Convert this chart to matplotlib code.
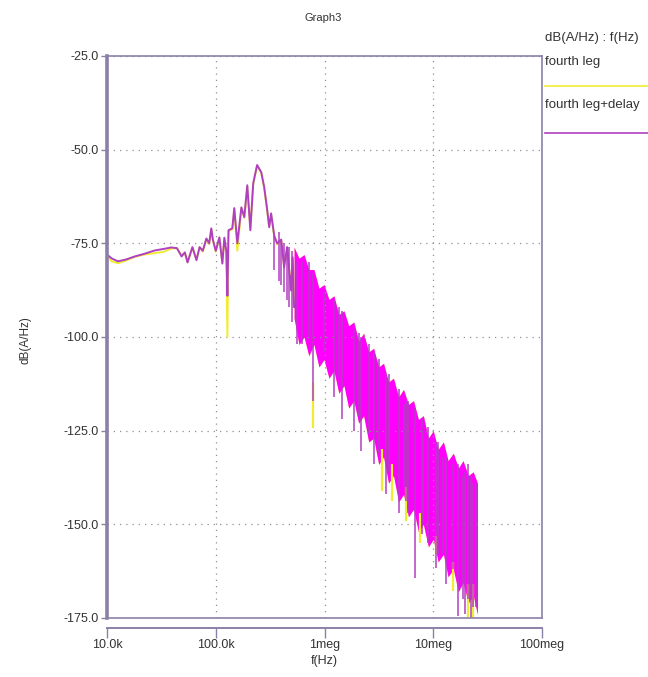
import numpy as np
import matplotlib.pyplot as plt
from matplotlib.ticker import FixedLocator, NullLocator

plt.rcParams['font.family'] = ['Liberation Sans', 'DejaVu Sans']

# low / mid frequency trace (Hz, dB(A/Hz))
f_line = [10e3, 11e3, 12.6e3, 15e3, 18e3, 22e3, 27.5e3, 33e3, 39e3, 44e3,
          48.5e3, 52e3, 55e3, 61e3, 66.5e3, 71e3, 76e3, 82e3, 87e3, 91e3,
          94e3, 100e3, 108e3, 115e3, 120e3, 125e3, 128e3, 131e3, 142e3, 148e3,
          158e3, 172e3, 183e3, 195e3, 208e3, 221e3, 240e3, 262e3, 279e3, 297e3,
          310e3, 323e3, 345e3, 367e3, 400e3, 425e3, 453e3, 493e3, 510e3, 525e3]
db_delay = [-78.0, -79.0, -79.8, -79.3, -78.5, -77.8, -76.9, -76.5, -76.1, -76.3,
            -78.5, -77.4, -80.1, -76.0, -79.5, -76.0, -77.0, -73.7, -75.0, -71.0,
            -74.0, -77.0, -73.4, -80.4, -73.5, -77.0, -89.0, -71.5, -71.0, -65.6,
            -75.0, -65.4, -68.0, -59.5, -71.5, -59.0, -54.1, -56.0, -60.0, -66.0,
            -70.7, -67.0, -73.0, -75.0, -74.0, -81.4, -76.0, -87.6, -78.7, -92.0]
db_leg = [-78.3, -79.8, -80.3, -79.6, -78.6, -78.0, -77.6, -77.3, -76.4, -76.3,
          -78.2, -77.6, -80.0, -76.2, -79.3, -76.1, -77.2, -74.0, -75.2, -71.3,
          -74.1, -77.2, -73.6, -80.2, -73.8, -77.5, -100.0, -71.8, -71.2, -66.0,
          -77.0, -65.6, -68.2, -59.8, -71.0, -59.2, -54.3, -56.2, -60.3, -66.2,
          -70.5, -67.3, -73.2, -75.3, -74.2, -81.0, -76.3, -87.0, -79.0, -91.0]

# dense high frequency band: top and bottom of the filled region
f_band = [525e3, 583e3, 649e3, 717e3, 800e3, 889e3, 989e3, 1.10e6, 1.22e6, 1.355e6,
          1.51e6, 1.67e6, 1.86e6, 2.06e6, 2.29e6, 2.55e6, 2.83e6, 3.15e6, 3.49e6, 3.88e6,
          4.31e6, 4.8e6, 5.33e6, 5.92e6, 6.58e6, 7.31e6, 8.11e6, 9.02e6, 10.0e6, 11.1e6,
          12.4e6, 13.7e6, 15.3e6, 17.0e6, 18.8e6, 21.0e6, 23.3e6, 25.5e6]
band_top = [-76, -79, -78, -82, -82, -87, -86, -90, -89, -94,
            -93, -97, -96, -101, -99, -104, -103, -108, -107, -112,
            -111, -116, -114, -118, -117, -122, -121, -127, -125, -130,
            -128, -133, -131, -135, -133, -137, -136, -139]
band_bot = [-95, -102, -100, -105, -102, -108, -106, -111, -109, -115,
            -113, -119, -117, -123, -121, -128, -127, -134, -132, -139,
            -137, -144, -142, -148, -146, -152, -150, -156, -154, -160,
            -158, -164, -162, -168, -165.5, -171, -169, -174]

# darker streaks and downward spikes of fourth leg+delay
spk_f = [345e3, 385e3, 400e3, 425e3, 453e3, 470e3, 500e3, 560e3, 621e3, 717e3,
         783e3, 989e3, 1.22e6, 1.355e6, 1.44e6, 1.86e6, 2.06e6, 2.15e6, 2.55e6, 2.83e6,
         3.15e6, 3.65e6, 3.88e6, 4.8e6, 5.33e6, 5.56e6, 5.92e6, 6.86e6, 7.8e6, 8.11e6,
         9.02e6, 10.7e6, 11.1e6, 12.4e6, 13.2e6, 15.3e6, 17.0e6, 18.8e6, 19.7e6, 21.0e6,
         22.3e6, 23.3e6, 24.5e6]
spk_hi = [-73, -72, -74, -75, -76, -76, -77, -80, -80, -80,
          -83, -88, -90, -92, -93, -98, -99, -100, -102, -104,
          -106, -110, -110, -114, -118, -117, -117, -119, -122, -125,
          -124, -128, -128, -132, -132, -134, -134, -137, -136, -134,
          -137, -139, -139]
spk_lo = [-82.0, -85.0, -86.0, -88.0, -90.0, -92.0, -96.0, -102.0, -101.8, -100.0,
          -117.0, -104.0, -116.0, -111.0, -122.0, -125.0, -121.0, -130.3, -126.0, -133.8,
          -131.0, -141.8, -136.0, -147.0, -140.0, -143.7, -147.0, -164.3, -152.5, -149.0,
          -155.0, -161.6, -158.0, -158.0, -166.0, -162.0, -174.5, -170.0, -174.0, -170.0,
          -175.0, -172.0, -172.0]

# yellow tips showing below the purple spikes (fourth leg)
yspk_f = [783e3, 3.35e6, 4.14e6, 5.56e6, 7.62e6, 10.7e6, 15.3e6, 21e6, 23.4e6]
yspk_hi = [-112.0, -130.0, -134.0, -140.0, -147.0, -153.0, -160.0, -166.0, -166.0]
yspk_lo = [-124.2, -141.0, -143.7, -149.0, -155.0, -158.0, -167.8, -175.0, -175.0]

purple = '#b040c0'
magenta = '#ff00ff'
yellow = '#f0ec30'
frame = '#8c80a8'
txt = '#333333'

fig = plt.figure(figsize=(6.48, 6.77), dpi=100)
ax = fig.add_axes([107 / 648, 1 - 618 / 677, 435 / 648, 562 / 677])

# fourth leg (yellow), mostly hidden underneath
ax.plot(f_line, db_leg, color=yellow, lw=1.4)
ax.fill_between(f_band, band_top, band_bot, color=yellow, lw=0)
ax.vlines(yspk_f, yspk_hi, yspk_lo, color=yellow, lw=1.6)

# fourth leg+delay
ax.fill_between(f_band, band_top, band_bot, color=magenta, lw=0)
ax.vlines(spk_f, spk_hi, spk_lo, color=purple, lw=1.1)
ax.plot(f_line, db_delay, color=purple, lw=1.4)

ax.set_xscale('log')
ax.set_xlim(1e4, 1e8)
ax.set_ylim(-175, -25)
ax.xaxis.set_major_locator(FixedLocator([1e4, 1e5, 1e6, 1e7, 1e8]))
ax.xaxis.set_minor_locator(NullLocator())
ax.set_xticklabels(['10.0k', '100.0k', '1meg', '10meg', '100meg'])
yt = [-25, -50, -75, -100, -125, -150, -175]
ax.set_yticks(yt)
ax.set_yticklabels(['%.1f' % v for v in yt])
ax.grid(True, color='#909090', ls=(0, (1, 4)), lw=0.9)

for s in ['top', 'right']:
    ax.spines[s].set_color(frame)
    ax.spines[s].set_linewidth(1.2)
ax.spines['left'].set_color(frame)
ax.spines['left'].set_linewidth(2.6)
ax.spines['bottom'].set_color(frame)
ax.spines['bottom'].set_linewidth(1.4)
ax.spines['bottom'].set_position(('outward', 7))
ax.axhline(-175, color=frame, lw=1.2, clip_on=False)

ax.tick_params(axis='x', direction='out', length=7, width=1.0, color=frame,
               labelsize=9, labelcolor=txt, pad=1)
ax.tick_params(axis='y', direction='out', length=4, width=1.0, color=frame,
               labelsize=9, labelcolor=txt, pad=2)

ax.set_xlabel('f(Hz)', fontsize=9, color=txt, labelpad=3)
fig.text(25 / 648, 1 - 340 / 677, 'dB(A/Hz)', rotation=90, fontsize=8.5,
         color=txt, ha='center', va='center')
fig.text(323 / 648, 1 - 18 / 677, 'Graph3', fontsize=8, color=txt,
         ha='center', va='center')

# legend to the right of the frame
fig.text(545 / 648, 1 - 38 / 677, 'dB(A/Hz) : f(Hz)', fontsize=9.5, color=txt, va='center')
fig.text(545 / 648, 1 - 62 / 677, 'fourth leg', fontsize=9.5, color=txt, va='center')
fig.add_artist(plt.Line2D([545 / 648, 1.0], [1 - 86 / 677] * 2, color=yellow, lw=1.2))
fig.text(545 / 648, 1 - 105 / 677, 'fourth leg+delay', fontsize=9.5, color=txt, va='center')
fig.add_artist(plt.Line2D([545 / 648, 1.0], [1 - 133 / 677] * 2, color=purple, lw=1.2))

fig.savefig('out.png', dpi=100)
